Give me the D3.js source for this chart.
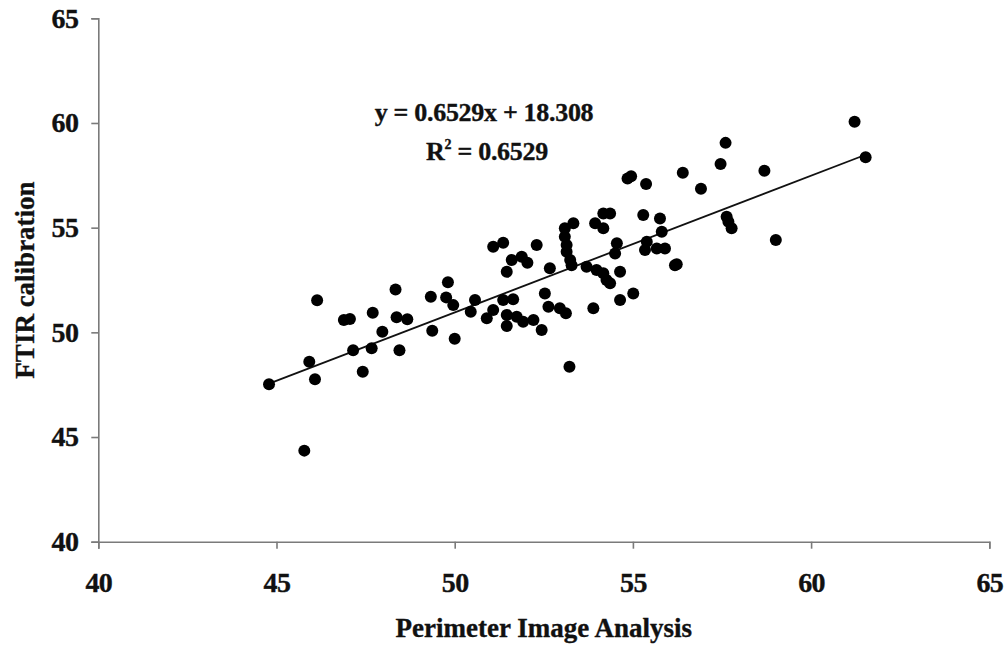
<!DOCTYPE html>
<html><head><meta charset="utf-8">
<script src="https://cdn.jsdelivr.net/npm/d3@7"></script>
<style>body{margin:0;background:#fff;} svg{display:block;}</style>
</head><body>
<svg id="c" width="1005" height="645"></svg>
<script>
const xValues = [44.79,45.78,45.92,46.08,46.14,46.89,47.06,47.15,47.42,47.70,47.67,47.97,48.34,48.37,48.67,48.45,49.33,49.37,49.81,49.76,49.96,50.00,50.45,50.57,50.90,51.08,51.08,51.36,51.46,51.60,51.88,52.04,52.30,51.36,51.64,51.46,51.46,51.74,51.92,52.21,52.44,52.53,52.63,52.67,52.95,53.12,53.22,53.09,53.33,53.09,53.14,53.14,53.24,53.28,53.70,53.89,53.94,54.17,54.36,54.17,53.98,54.17,54.26,54.36,54.64,54.55,54.50,54.64,55.01,55.29,55.76,55.81,55.39,55.34,55.67,55.90,56.18,61.22,61.53,57.60,57.46,58.69,56.40,56.91,54.85,55.37,57.63,57.68,57.77,59.01,56.23,54.95];
const yValues = [47.52,44.35,48.60,47.76,51.53,50.59,50.64,49.15,48.12,50.94,49.24,50.03,52.05,50.72,50.62,49.15,51.70,50.08,52.39,51.67,51.30,49.69,50.98,51.54,50.67,51.07,54.09,54.28,52.89,53.45,53.61,53.32,54.17,51.54,51.58,50.83,50.30,50.75,50.51,50.59,50.11,51.86,51.22,53.06,51.15,50.91,48.36,54.97,55.21,54.57,54.17,53.85,53.45,53.21,53.13,51.15,55.21,55.68,55.68,54.97,52.98,52.82,52.50,52.34,52.89,54.25,53.77,51.54,51.86,55.60,55.44,54.80,54.33,53.93,54.01,54.01,53.21,60.06,58.36,59.05,58.04,57.72,57.62,56.86,57.35,57.08,55.52,55.28,54.97,54.41,53.25,57.45];
const xTicks = [40,45,50,55,60,65];
const yTicks = [40,45,50,55,60,65];
const slope = 0.6529, intercept = 18.308;
const equationText = "y = 0.6529x + 18.308";
const r2Label = "0.6529";
const xTitle = "Perimeter Image Analysis";
const yTitle = "FTIR calibration";

const svg = d3.select("#c");
const font = "'Liberation Serif', 'Times New Roman', serif";
const x = d3.scaleLinear().domain([40,65]).range([98.3,989.3]);
const y = d3.scaleLinear().domain([40,65]).range([541.7,18.3]);
const axisColor = "#7a7a7a";
const textStyle = sel => sel.attr("font-family",font).attr("font-weight","bold")
  .attr("fill","#111").attr("stroke","#111").attr("stroke-width",0.35);

const xa = svg.append("g").attr("transform",`translate(0,${y(40)})`)
  .call(d3.axisBottom(x).tickValues(xTicks).tickSize(7).tickSizeOuter(7).tickPadding(22));
const ya = svg.append("g").attr("transform",`translate(${x(40)},0)`)
  .call(d3.axisLeft(y).tickValues(yTicks).tickSize(7).tickSizeOuter(7).tickPadding(13));
[xa,ya].forEach(a=>{
  a.selectAll("path,line").attr("stroke",axisColor).attr("stroke-width",1.6);
  a.selectAll("text").call(textStyle).attr("font-size",28).attr("letter-spacing","-0.6px");
});
xa.selectAll("text").attr("dy","0.35em").attr("y",41);

svg.append("text").attr("x",(x(40)+x(65))/2).attr("y",637).attr("text-anchor","middle")
  .call(textStyle).attr("font-size",27).text(xTitle);
svg.append("text").attr("transform",`translate(34,${(y(40)+y(65))/2}) rotate(-90)`).attr("text-anchor","middle")
  .call(textStyle).attr("font-size",27).text(yTitle);

const xmin = d3.min(xValues), xmax = d3.max(xValues);
svg.append("line").attr("x1",x(xmin)).attr("y1",y(slope*xmin+intercept))
  .attr("x2",x(xmax)).attr("y2",y(slope*xmax+intercept)).attr("stroke","#111").attr("stroke-width",1.8);

svg.append("g").selectAll("circle").data(xValues.map((v,i)=>[v,yValues[i]])).join("circle")
  .attr("cx",d=>x(d[0])).attr("cy",d=>y(d[1])).attr("r",6).attr("fill","#000");

svg.append("text").attr("x",484).attr("y",121).attr("text-anchor","middle")
  .call(textStyle).attr("font-size",26).attr("letter-spacing","-0.3px").text(equationText);
const r2 = svg.append("text").attr("x",487).attr("y",160).attr("text-anchor","middle")
  .call(textStyle).attr("font-size",26).attr("letter-spacing","-0.3px");
r2.append("tspan").text("R");
r2.append("tspan").attr("font-size",14).attr("dy",-11).text("2");
r2.append("tspan").attr("dy",11).text(" = " + r2Label);
</script>
</body></html>
